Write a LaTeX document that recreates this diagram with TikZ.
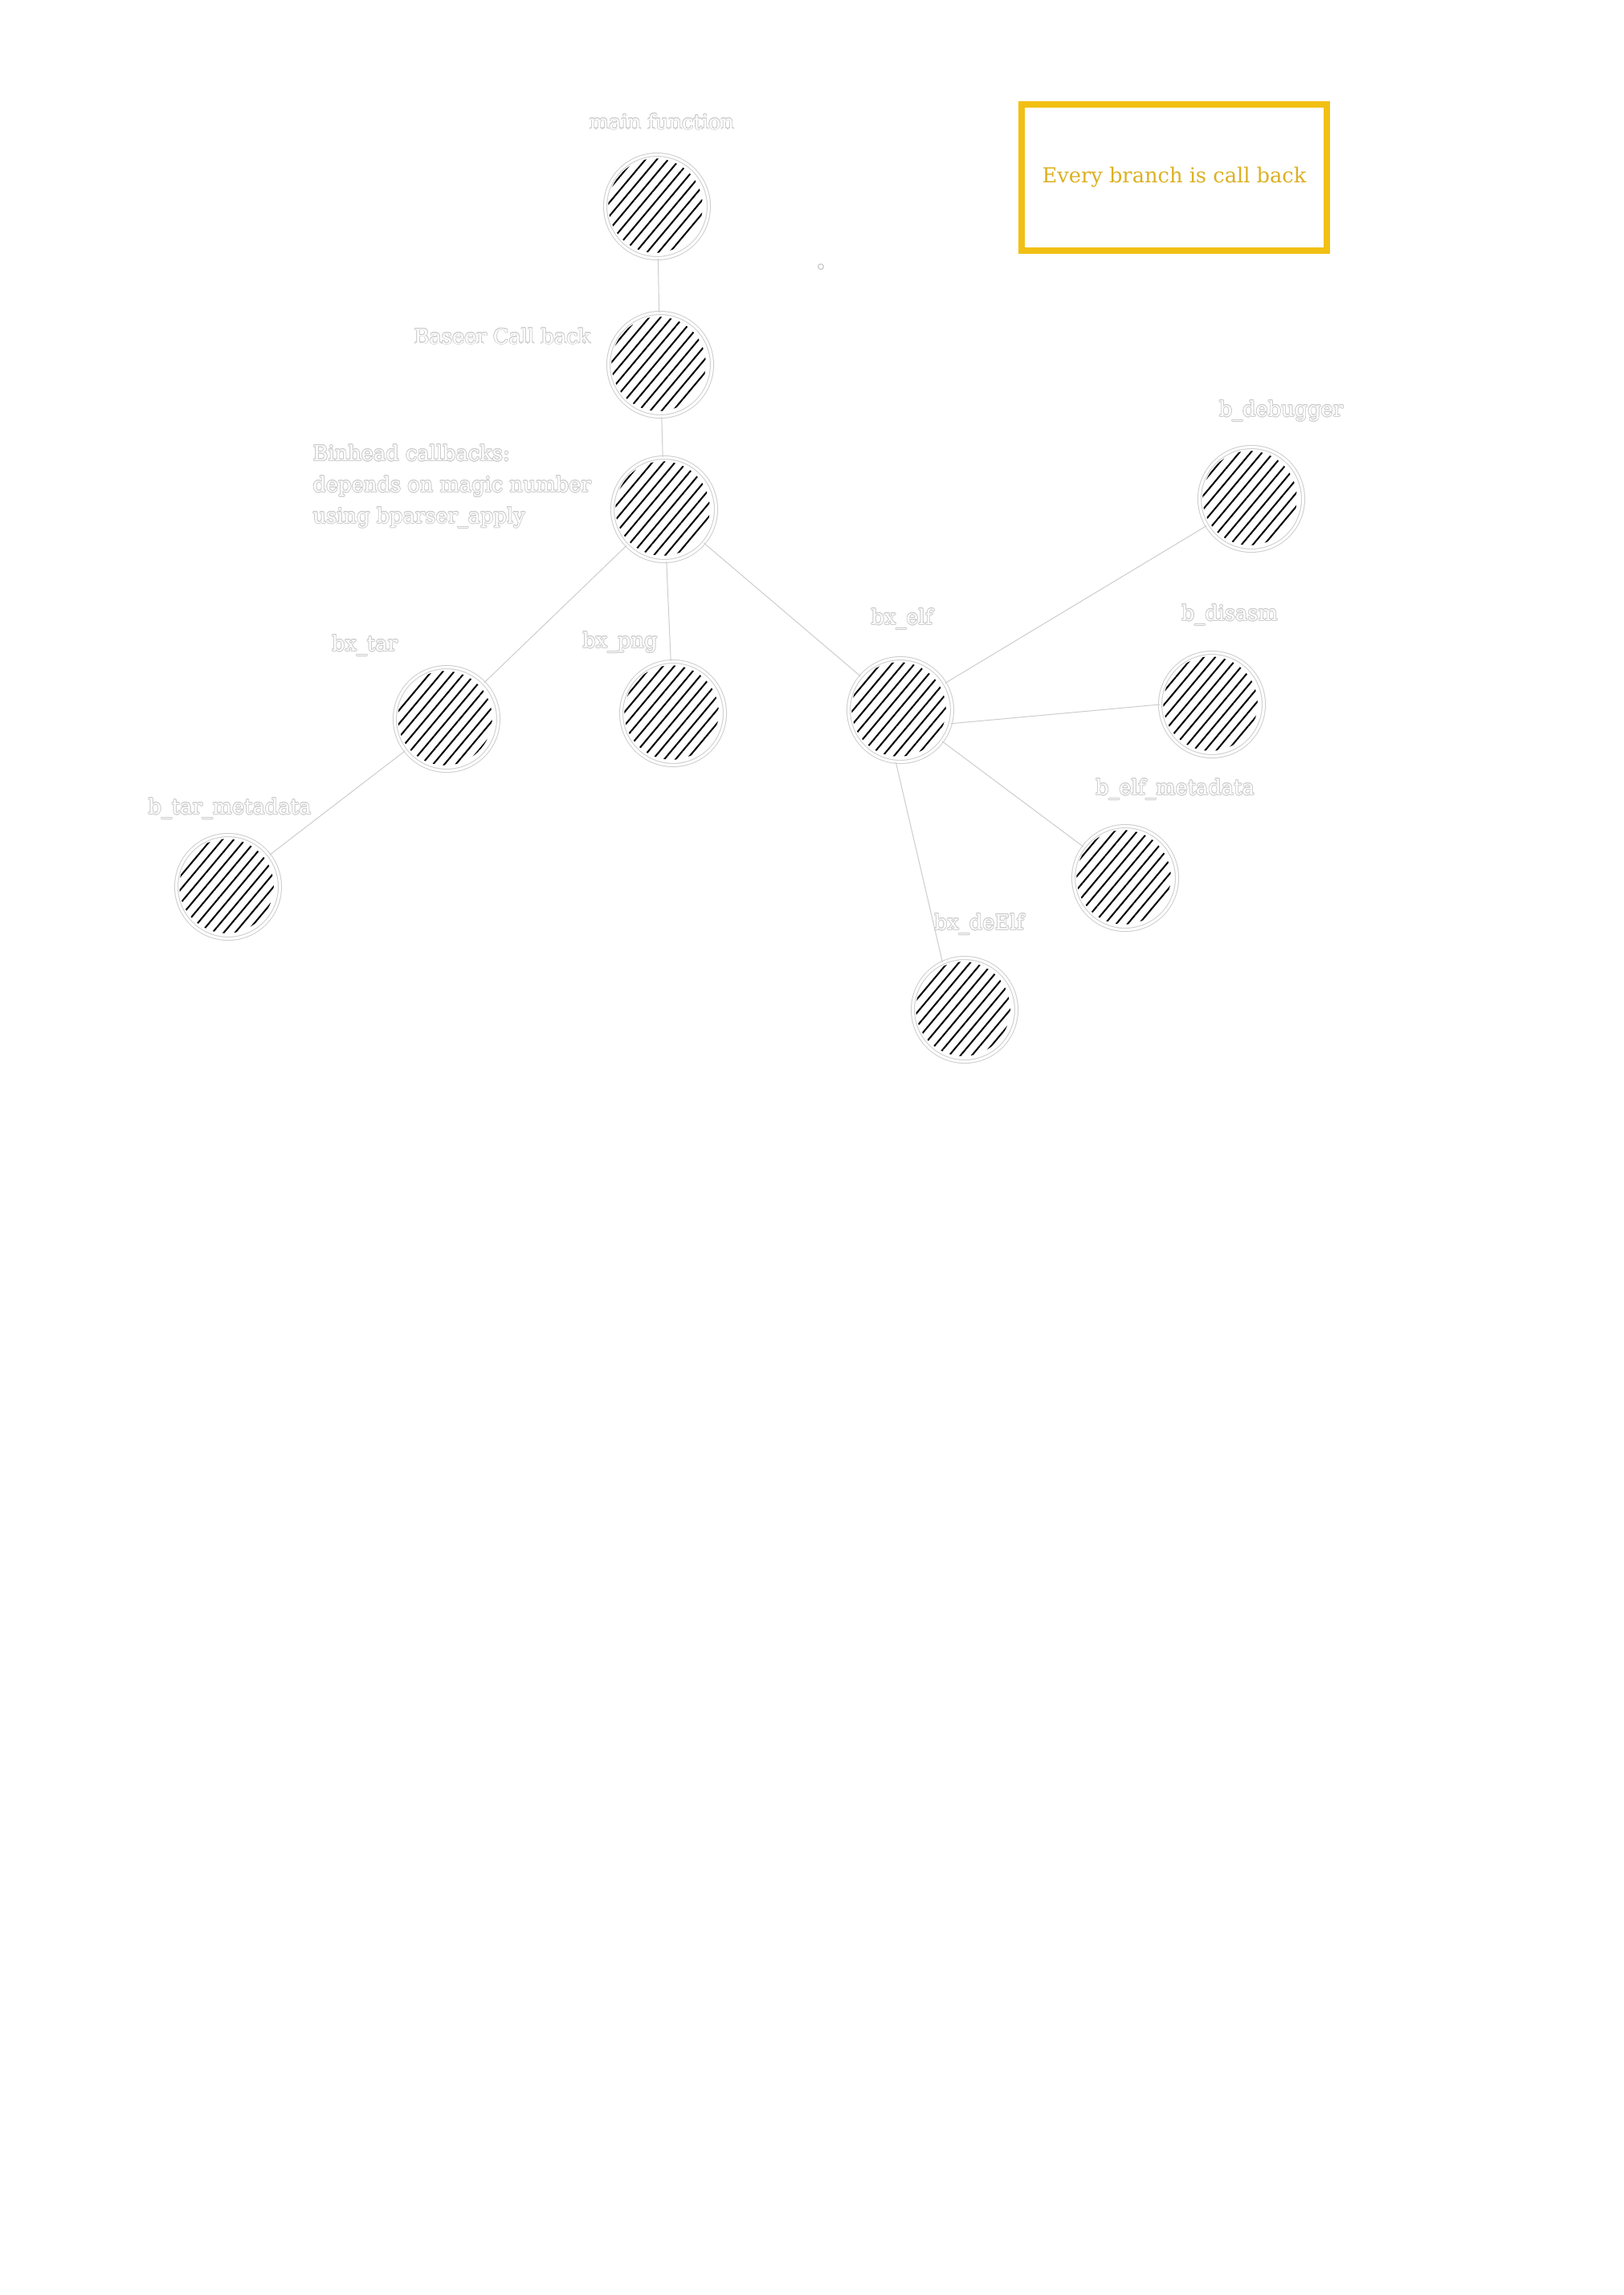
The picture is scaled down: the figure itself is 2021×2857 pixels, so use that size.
\documentclass[tikz,border=0pt]{standalone}
\usepackage{fontspec}
\setmainfont{DejaVu Serif}
\usepackage[copies]{contour}
\usetikzlibrary{patterns.meta}
\definecolor{rimgray}{RGB}{205,205,205}
\definecolor{notegold}{RGB}{242,192,20}
\definecolor{notetext}{RGB}{220,176,34}
\contourlength{0.22pt}
\newcommand{\ghost}[1]{\contour{rimgray}{#1}}

\begin{document}
\begin{tikzpicture}[x=0.010391cm, y=-0.010391cm,
    every node/.style={font=\fontsize{7.6}{11.5}\selectfont},
    blob/.style={circle, minimum size=1.34cm, inner sep=0pt, draw=rimgray, line width=0.3pt, double=white, double distance=0.9pt,
      path picture={\fill[pattern={Lines[angle=50, distance=3.2pt, line width=0.6pt]}] ([xshift=-0.02cm, yshift=0.01cm]path picture bounding box.center) circle (0.61cm);}},
    tag/.style={text=white, inner sep=0pt},
    link/.style={draw=rimgray, line width=0.3pt, double=white, double distance=1.3pt}]
    \useasboundingbox (0,0) rectangle (2021,2857);

    \node[blob] (main) at (818,257) {};
    \node[blob] (baseer) at (822,454) {};
    \node[blob] (binhead) at (827,634) {};
    \node[blob] (bxtar) at (556,895) {};
    \node[blob] (bxpng) at (838,888) {};
    \node[blob] (bxelf) at (1121,884) {};
    \node[blob] (bdebugger) at (1558,621) {};
    \node[blob] (bdisasm) at (1509,877) {};
    \node[blob] (belfmeta) at (1401,1093) {};
    \node[blob] (bxdeelf) at (1201,1257) {};
    \node[blob] (btarmeta) at (284,1104) {};

    \node[tag] (t-main) at (824,152) {\ghost{main function}};
    \node[tag, anchor=east] (t-baseer) at (736,419) {\ghost{Baseer Call back}};
    \node[tag, anchor=west, align=left] (t-binhead) at (389,606) {\ghost{Binhead callbacks:}\\\ghost{depends on magic number}\\\ghost{using bparser\_apply}};
    \node[tag] (t-bxtar) at (454,804) {\ghost{bx\_tar}};
    \node[tag] (t-bxpng) at (772,800) {\ghost{bx\_png}};
    \node[tag] (t-bxelf) at (1123,771) {\ghost{bx\_elf}};
    \node[tag] (t-bdebugger) at (1595,512) {\ghost{b\_debugger}};
    \node[tag] (t-bdisasm) at (1531,766) {\ghost{b\_disasm}};
    \node[tag] (t-belfmeta) at (1463,983) {\ghost{b\_elf\_metadata}};
    \node[tag] (t-bxdeelf) at (1219,1151) {\ghost{bx\_deElf}};
    \node[tag] (t-btarmeta) at (286,1007) {\ghost{b\_tar\_metadata}};

    \node[draw=notegold, line width=2.4pt, minimum width=3.94cm, minimum height=1.9cm, text=notetext] (note) at (1462,221) {Every branch is call back};
    \node[circle, draw=rimgray, line width=0.4pt, minimum size=0.07cm, inner sep=0pt] (dot) at (1022,332) {};

    \path[link] (main) edge (baseer)
        (baseer) edge (binhead)
        (binhead) edge (bxtar) edge (bxpng) edge (bxelf)
        (bxtar) edge (btarmeta)
        (bxelf) edge (bdebugger)
        (bxelf.-15) edge (bdisasm.west)
        (bxelf) edge (belfmeta)
        (bxelf.265) edge (bxdeelf.115);
\end{tikzpicture}
\end{document}
